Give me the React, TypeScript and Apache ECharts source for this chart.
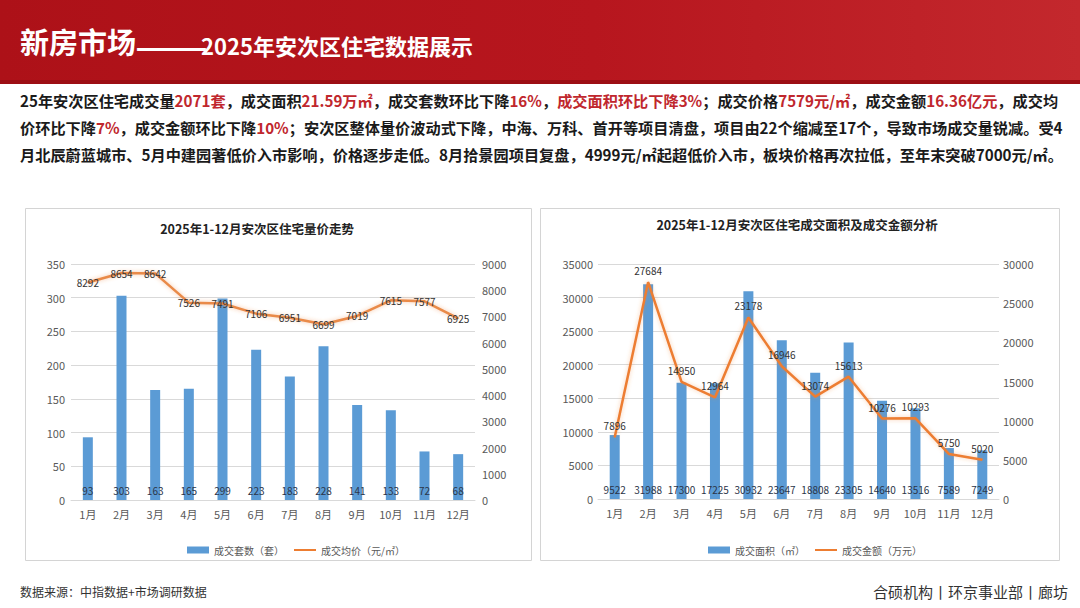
import React, { useEffect, useRef } from "react";
import * as echarts from "echarts";

const months = ["1月", "2月", "3月", "4月", "5月", "6月", "7月", "8月", "9月", "10月", "11月", "12月"];
const unitsSold = [93, 303, 163, 165, 299, 223, 183, 228, 141, 133, 72, 68];
const avgPrice = [8292, 8654, 8642, 7526, 7491, 7106, 6951, 6699, 7019, 7615, 7577, 6925];
const dealArea = [9522, 31988, 17300, 17225, 30932, 23647, 18808, 23305, 14640, 13516, 7589, 7249];
const dealAmount = [7896, 27684, 14950, 12964, 23178, 16946, 13074, 15613, 10276, 10293, 5750, 5020];

const headerMain = "新房市场";
const headerDash = "——";
const headerSub = "2025年安次区住宅数据展示";
const paragraphLines = [
  "25年安次区住宅成交量{r|2071套}，成交面积{r|21.59万㎡}，成交套数环比下降{r|16%}，{r|成交面积环比下降3%}；成交价格{r|7579元/㎡}，成交金额{r|16.36亿元}，成交均",
  "价环比下降{r|7%}，成交金额环比下降{r|10%}；安次区整体量价波动式下降，中海、万科、首开等项目清盘，项目由22个缩减至17个，导致市场成交量锐减。受4",
  "月北辰蔚蓝城市、5月中建园著低价入市影响，价格逐步走低。8月拾景园项目复盘，4999元/㎡起超低价入市，板块价格再次拉低，至年末突破7000元/㎡。",
];
const chartTitleLeft = "2025年1-12月安次区住宅量价走势";
const chartTitleRight = "2025年1-12月安次区住宅成交面积及成交金额分析";
const seriesNames = ["成交套数（套）", "成交均价（元/㎡）", "成交面积（㎡）", "成交金额（万元）"];
const footerLeft = "数据来源：中指数据+市场调研数据";
const footerRight = "合硕机构丨环京事业部丨廊坊";

const FONT = '"Noto Sans CJK SC", "Noto Sans", sans-serif';
const BLUE = "#5b9bd5";
const ORANGE = "#ed7d31";
const AXIS_TEXT = "#595959";
const GRID_LINE = "#d9d9d9";
const RED_TEXT = "#c0272d";

export default function App() {
  const ref = useRef<HTMLDivElement>(null);

  useEffect(() => {
    if (!ref.current) return;
    const chart = echarts.init(ref.current, null, { renderer: "svg", width: 1080, height: 608 });

    const lineLegendIcon = "path://M0,0H22V2H0Z";
    const plain = (v: number) => String(v);

    const paragraphs = paragraphLines.map((t, i) => ({
      type: "text",
      left: 20,
      top: 92 + i * 27,
      z: 10,
      style: {
        text: t,
        fill: "#1a1a1a",
        fontSize: 15.2,
        fontWeight: "bold",
        fontFamily: FONT,
        rich: {
          r: { fill: RED_TEXT, fontSize: 15.2, fontWeight: "bold", fontFamily: FONT },
        },
      },
    }));

    const xAxisCommon = {
      type: "category",
      data: months,
      axisLine: { show: true, lineStyle: { color: GRID_LINE } },
      axisTick: { show: false },
      axisLabel: { color: AXIS_TEXT, fontSize: 11, fontFamily: FONT, margin: 8 },
    };
    const yAxisCommon = {
      type: "value",
      axisLine: { show: false },
      axisTick: { show: false },
      axisLabel: { color: AXIS_TEXT, fontSize: 11, fontFamily: FONT, margin: 6, formatter: plain },
      splitLine: { show: true, lineStyle: { color: GRID_LINE } },
    };

    const barLabel = {
      show: true,
      position: "insideBottom",
      distance: 5,
      fontSize: 10,
      color: "#2b3548",
      fontFamily: FONT,
    };

    chart.setOption({
      animation: false,
      backgroundColor: "#ffffff",
      textStyle: { fontFamily: FONT },
      graphic: [
        {
          type: "rect",
          z: 0,
          shape: { x: 0, y: 0, width: 1080, height: 84 },
          style: {
            fill: new echarts.graphic.LinearGradient(0, 0, 1, 0, [
              { offset: 0, color: "#ad1118" },
              { offset: 0.55, color: "#b7161e" },
              { offset: 1, color: "#c3282d" },
            ]),
          },
        },
        {
          type: "rect",
          z: 1,
          shape: { x: 0, y: 80, width: 1080, height: 4 },
          style: { fill: "#9c0e14" },
        },
        {
          type: "text",
          left: 20,
          top: 26,
          z: 10,
          style: { text: headerMain, fill: "#ffffff", fontSize: 29, fontWeight: "bold", fontFamily: FONT },
        },
        {
          type: "text",
          x: 135,
          y: 45,
          scaleX: 1.95,
          scaleY: 1.5,
          z: 10,
          style: {
            text: headerDash,
            fill: "#ffffff",
            fontSize: 22,
            fontWeight: "bold",
            fontFamily: FONT,
            verticalAlign: "middle",
          },
        },
        {
          type: "text",
          x: 201,
          y: 45,
          z: 10,
          style: {
            text: headerSub,
            fill: "#ffffff",
            fontSize: 22,
            fontWeight: "bold",
            fontFamily: FONT,
            verticalAlign: "middle",
          },
        },
        ...paragraphs,
        {
          type: "rect",
          z: -10,
          shape: { x: 25.5, y: 208.5, width: 506, height: 352 },
          style: { fill: "#ffffff", stroke: "#d4d4d4", lineWidth: 1 },
        },
        {
          type: "rect",
          z: -10,
          shape: { x: 540.5, y: 208.5, width: 519, height: 352 },
          style: { fill: "#ffffff", stroke: "#d4d4d4", lineWidth: 1 },
        },
        {
          type: "text",
          x: 257,
          y: 228,
          z: 10,
          style: {
            text: chartTitleLeft,
            fill: "#222",
            fontSize: 12.5,
            fontWeight: "bold",
            fontFamily: FONT,
            align: "center",
            verticalAlign: "middle",
          },
        },
        {
          type: "text",
          x: 797,
          y: 224,
          z: 10,
          style: {
            text: chartTitleRight,
            fill: "#222",
            fontSize: 12.5,
            fontWeight: "bold",
            fontFamily: FONT,
            align: "center",
            verticalAlign: "middle",
          },
        },
        {
          type: "text",
          x: 20,
          y: 591,
          z: 10,
          style: { text: footerLeft, fill: "#333", fontSize: 12, fontFamily: FONT, verticalAlign: "middle" },
        },
        {
          type: "text",
          x: 1068,
          y: 591,
          z: 10,
          style: {
            text: footerRight,
            fill: "#333",
            fontSize: 15,
            fontFamily: FONT,
            align: "right",
            verticalAlign: "middle",
          },
        },
      ],
      legend: [
        {
          left: 182,
          top: 540,
          itemWidth: 22,
          itemHeight: 7,
          itemGap: 10,
          textStyle: { fontSize: 10, color: AXIS_TEXT, fontFamily: FONT },
          data: [
            { name: seriesNames[0], icon: "rect" },
            { name: seriesNames[1], icon: lineLegendIcon },
          ],
        },
        {
          left: 703,
          top: 540,
          itemWidth: 22,
          itemHeight: 7,
          itemGap: 10,
          textStyle: { fontSize: 10, color: AXIS_TEXT, fontFamily: FONT },
          data: [
            { name: seriesNames[2], icon: "rect" },
            { name: seriesNames[3], icon: lineLegendIcon },
          ],
        },
      ],
      grid: [
        { left: 71, right: 605, top: 264, bottom: 108 },
        { left: 598, right: 81, top: 264, bottom: 109 },
      ],
      xAxis: [
        { ...xAxisCommon, gridIndex: 0 },
        { ...xAxisCommon, gridIndex: 1 },
      ],
      yAxis: [
        { ...yAxisCommon, gridIndex: 0, min: 0, max: 350, interval: 50 },
        {
          ...yAxisCommon,
          gridIndex: 0,
          position: "right",
          min: 0,
          max: 9000,
          interval: 1000,
          splitLine: { show: false },
          axisLabel: { ...yAxisCommon.axisLabel, margin: 7 },
        },
        {
          ...yAxisCommon,
          gridIndex: 1,
          min: 0,
          max: 35000,
          interval: 5000,
          axisLabel: { ...yAxisCommon.axisLabel, margin: 5 },
        },
        {
          ...yAxisCommon,
          gridIndex: 1,
          position: "right",
          min: 0,
          max: 30000,
          interval: 5000,
          splitLine: { show: false },
          axisLabel: { ...yAxisCommon.axisLabel, margin: 4 },
        },
      ],
      series: [
        {
          name: seriesNames[0],
          type: "bar",
          xAxisIndex: 0,
          yAxisIndex: 0,
          data: unitsSold,
          barWidth: 10,
          itemStyle: { color: BLUE },
          label: barLabel,
        },
        {
          name: seriesNames[1],
          type: "line",
          xAxisIndex: 0,
          yAxisIndex: 1,
          data: avgPrice,
          symbol: "circle",
          symbolSize: 1,
          itemStyle: { color: ORANGE },
          lineStyle: { color: "#e98a48", width: 2.5, shadowColor: "rgba(237,125,49,0.45)", shadowBlur: 4 },
          label: { show: true, position: "inside", fontSize: 10, color: "#333", fontFamily: FONT },
          z: 5,
        },
        {
          name: seriesNames[2],
          type: "bar",
          xAxisIndex: 1,
          yAxisIndex: 2,
          data: dealArea,
          barWidth: 10,
          itemStyle: { color: BLUE },
          label: barLabel,
        },
        {
          name: seriesNames[3],
          type: "line",
          xAxisIndex: 1,
          yAxisIndex: 3,
          data: dealAmount,
          symbol: "circle",
          symbolSize: 1,
          itemStyle: { color: ORANGE },
          lineStyle: { color: ORANGE, width: 2.5, shadowColor: "rgba(237,125,49,0.4)", shadowBlur: 4 },
          label: { show: true, position: "top", distance: 6, fontSize: 10, color: "#333", fontFamily: FONT },
          z: 5,
        },
      ],
    });

    return () => {
      chart.dispose();
    };
  }, []);

  return (
    <div
      ref={ref}
      style={{ position: "fixed", left: 0, top: 0, width: 1080, height: 608, background: "#ffffff" }}
    />
  );
}
